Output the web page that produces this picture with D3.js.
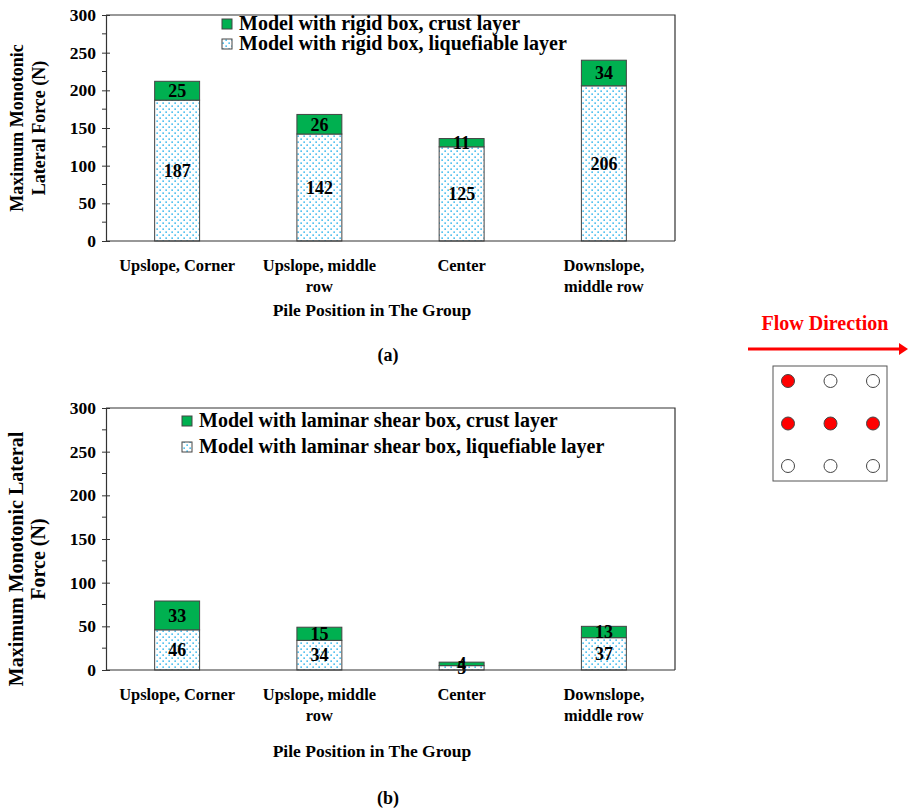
<!DOCTYPE html>
<html>
<head>
<meta charset="utf-8">
<script src="https://cdn.jsdelivr.net/npm/d3@7"></script>
<style>
  body { margin: 0; background: #fff; }
  svg { display: block; font-family: "Liberation Serif", "Times New Roman", serif; font-weight: bold; }
</style>
</head>
<body>
<svg id="fig" width="908" height="809"></svg>
<script>
// Pile positions (line breaks mark the wrapped label lines)
const categories = ["Upslope, Corner", "Upslope, middle\nrow", "Center", "Downslope,\nmiddle row"];

// (a) rigid box
const rigidLiquefiable = [187, 142, 125, 206];
const rigidCrust = [25, 26, 11, 34];

// (b) laminar shear box
const laminarLiquefiable = [46, 34, 5, 37];
const laminarCrust = [33, 15, 4, 13];

const yTicks = [0, 50, 100, 150, 200, 250, 300];
const yMinorTicks = [25, 75, 125, 175, 225, 275];

const svg = d3.select("#fig");
const GREEN = "#00b050";
const DOT = "#2eb4ec";

// dotted fill used for the liquefiable layer
const defs = svg.append("defs");
const pat = defs.append("pattern")
  .attr("id", "dots").attr("patternUnits", "userSpaceOnUse")
  .attr("width", 6).attr("height", 6);
pat.append("rect").attr("width", 6).attr("height", 6).attr("fill", "#fff");
pat.append("rect").attr("x", 0.4).attr("y", 0.4).attr("width", 1.5).attr("height", 1.5).attr("fill", DOT);
pat.append("rect").attr("x", 3.4).attr("y", 3.4).attr("width", 1.5).attr("height", 1.5).attr("fill", DOT);

function drawPanel(cfg) {
  const g = svg.append("g");
  const x = d3.scaleBand().domain(categories).range([cfg.left, cfg.right])
    .paddingInner(0.684).paddingOuter(0.342);
  const y = d3.scaleLinear().domain([0, 300]).range([cfg.bottom, cfg.top]);

  // frame (top and right)
  g.append("path")
    .attr("d", `M${cfg.left},${cfg.top}H${cfg.right}V${cfg.bottom}`)
    .attr("fill", "none").attr("stroke", "#333").attr("stroke-width", 1.2);

  // bars
  const rows = categories.map((c, i) => ({ c, liq: cfg.liq[i], crust: cfg.crust[i] }));
  const bars = g.selectAll(".bar").data(rows).join("g");
  bars.append("rect")
    .attr("x", d => x(d.c)).attr("width", x.bandwidth())
    .attr("y", d => y(d.liq)).attr("height", d => y(0) - y(d.liq))
    .attr("fill", "url(#dots)").attr("stroke", "#444").attr("stroke-width", 1);
  bars.append("rect")
    .attr("x", d => x(d.c)).attr("width", x.bandwidth())
    .attr("y", d => y(d.liq + d.crust)).attr("height", d => y(d.liq) - y(d.liq + d.crust))
    .attr("fill", GREEN).attr("stroke", "#444").attr("stroke-width", 1);

  // value labels centred in each segment
  bars.append("text")
    .attr("x", d => x(d.c) + x.bandwidth() / 2)
    .attr("y", d => y(d.liq / 2)).attr("dy", "0.35em")
    .attr("text-anchor", "middle").attr("font-size", 18).text(d => d.liq);
  bars.append("text")
    .attr("x", d => x(d.c) + x.bandwidth() / 2)
    .attr("y", d => y(d.liq + d.crust / 2)).attr("dy", "0.35em")
    .attr("text-anchor", "middle").attr("font-size", 18).text(d => d.crust);

  // y axis
  const yAxis = g.append("g").attr("transform", `translate(${cfg.left},0)`)
    .call(d3.axisLeft(y).tickValues(yTicks).tickSize(4).tickPadding(6));
  yAxis.select(".domain").attr("stroke", "#333").attr("stroke-width", 1.2);
  yAxis.selectAll(".tick line").attr("stroke", "#333").attr("x2", 4).attr("x1", -4);
  yAxis.selectAll(".tick text").attr("font-size", 17.5).attr("font-family", "Liberation Serif")
    .attr("font-weight", "bold").attr("fill", "#000");
  g.selectAll(".minor").data(yMinorTicks).join("line")
    .attr("x1", cfg.left - 4).attr("x2", cfg.left)
    .attr("y1", d => y(d)).attr("y2", d => y(d)).attr("stroke", "#333");

  // x baseline
  g.append("line").attr("x1", cfg.left).attr("x2", cfg.right)
    .attr("y1", cfg.bottom).attr("y2", cfg.bottom).attr("stroke", "#333").attr("stroke-width", 1.2);

  // category labels
  categories.forEach(c => {
    const cx = x(c) + x.bandwidth() / 2;
    const t = g.append("text").attr("text-anchor", "middle").attr("font-size", 17.5)
      .attr("transform", `translate(${cx},${cfg.bottom + 30}) scale(0.94,1)`);
    c.split("\n").forEach((line, k) => {
      t.append("tspan").attr("x", 0).attr("dy", k === 0 ? 0 : 21).text(line);
    });
  });

  // axis titles
  g.append("text").attr("text-anchor", "middle").attr("font-size", 17.5)
    .attr("x", cfg.xTitleX).attr("y", cfg.xTitleY).text("Pile Position in The Group");
  const yt = g.append("text").attr("text-anchor", "middle").attr("font-size", cfg.yTitleSize)
    .attr("transform", `translate(23,${cfg.yTitleY}) rotate(-90)`);
  cfg.yTitle.forEach((line, k) => {
    yt.append("tspan").attr("x", 0).attr("dy", k === 0 ? 0 : 22).text(line);
  });

  // panel tag
  g.append("text").attr("text-anchor", "middle").attr("font-size", 18)
    .attr("x", cfg.tagX).attr("y", cfg.tagY).text(cfg.tag);

  // legend
  const lg = g.append("g");
  cfg.legend.forEach((name, k) => {
    const ly = cfg.legendY + k * cfg.legendGap;
    lg.append("rect").attr("x", cfg.legendX).attr("y", ly - 11).attr("width", 10).attr("height", 10)
      .attr("fill", k === 0 ? GREEN : "url(#dots)").attr("stroke", "#444").attr("stroke-width", 1);
    lg.append("text").attr("x", cfg.legendX + 17).attr("y", ly).attr("font-size", 20).text(name);
  });
}

drawPanel({
  left: 106, right: 675, top: 15, bottom: 241,
  liq: rigidLiquefiable, crust: rigidCrust,
  legend: ["Model with rigid box, crust layer", "Model with rigid box, liquefiable layer"],
  legendX: 222, legendY: 30, legendGap: 20,
  yTitle: ["Maximum Monotonic", "Lateral Force (N)"], yTitleY: 128, yTitleSize: 18,
  xTitleX: 372, xTitleY: 316, tag: "(a)", tagX: 388, tagY: 361
});

drawPanel({
  left: 106, right: 675, top: 408, bottom: 670,
  liq: laminarLiquefiable, crust: laminarCrust,
  legend: ["Model with laminar shear box, crust layer", "Model with laminar shear box, liquefiable layer"],
  legendX: 182, legendY: 427, legendGap: 26,
  yTitle: ["Maximum Monotonic Lateral", "Force (N)"], yTitleY: 559, yTitleSize: 20,
  xTitleX: 372, xTitleY: 757, tag: "(b)", tagX: 388, tagY: 804
});

// flow direction inset: 3x3 pile group
const inset = svg.append("g");
inset.append("text").attr("x", 825).attr("y", 330).attr("text-anchor", "middle")
  .attr("font-size", 20).attr("fill", "#ff0000").text("Flow Direction");
inset.append("line").attr("x1", 748).attr("x2", 900).attr("y1", 349).attr("y2", 349)
  .attr("stroke", "#ff0000").attr("stroke-width", 3);
inset.append("path").attr("d", "M899,343L908,349L899,355Z").attr("fill", "#ff0000");
inset.append("rect").attr("x", 773).attr("y", 366).attr("width", 114).attr("height", 115)
  .attr("fill", "#fff").attr("stroke", "#555").attr("stroke-width", 1);

const pileCols = [0, 1, 2];
const pileRows = [0, 1, 2];
const highlighted = ["0-0", "1-0", "1-1", "1-2"];
const px = d3.scalePoint().domain(pileCols).range([788, 873]);
const py = d3.scalePoint().domain(pileRows).range([381, 466]);
const piles = pileRows.flatMap(r => pileCols.map(c => ({ r, c })));
inset.selectAll(".pile").data(piles).join("circle")
  .attr("cx", d => px(d.c)).attr("cy", d => py(d.r)).attr("r", 6.5)
  .attr("fill", d => highlighted.includes(`${d.r}-${d.c}`) ? "#ff0000" : "#fff")
  .attr("stroke", "#444").attr("stroke-width", 1);
</script>
</body>
</html>
